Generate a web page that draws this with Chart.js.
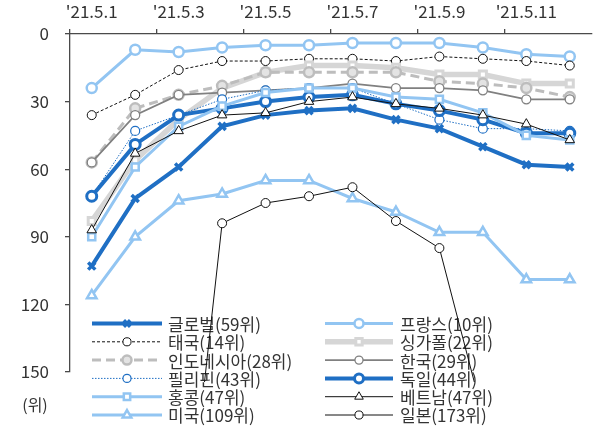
<!DOCTYPE html>
<html>
<head>
<meta charset="utf-8">
<script src="https://cdn.jsdelivr.net/npm/chart.js@4/dist/chart.umd.min.js"></script>
<style>
  html, body { margin: 0; padding: 0; background: #ffffff; }
  #wrap { width: 600px; height: 427px; position: relative; }
</style>
</head>
<body>
<div id="wrap"><canvas id="c" width="600" height="427"></canvas></div>
<script>
// Daily ranking, 1–12 May 2021 (lower rank = better, axis reversed)
const days = ["'21.5.1", "'21.5.2", "'21.5.3", "'21.5.4", "'21.5.5", "'21.5.6",
              "'21.5.7", "'21.5.8", "'21.5.9", "'21.5.10", "'21.5.11", "'21.5.12"];

const globalRank    = [103, 73, 59, 41, 36, 34, 33, 38, 42, 50, 58, 59];
const franceRank    = [24, 7, 8, 6, 5, 5, 4, 4, 4, 6, 9, 10];
const thailandRank  = [36, 27, 16, 12, 12, 11, 11, 12, 10, 11, 12, 14];
const singaporeRank = [83, 56, 38, 24, 17, 14, 14, 15, 18, 18, 22, 22];
const indonesiaRank = [57, 33, 27, 23, 17, 17, 17, 17, 21, 22, 24, 28];
const koreaRank     = [57, 36, 27, 26, 25, 24, 22, 24, 24, 25, 29, 29];
const philippinesRank = [72, 43, 36, 29, 25, 24, 24, 31, 38, 42, 42, 43];
const germanyRank   = [72, 49, 36, 33, 30, 28, 27, 31, 34, 38, 44, 44];
const hongkongRank  = [90, 59, 41, 32, 26, 24, 24, 28, 29, 35, 45, 47];
const vietnamRank   = [87, 53, 43, 36, 35, 30, 28, 31, 33, 36, 40, 47];
const usaRank       = [116, 90, 74, 71, 65, 65, 73, 79, 88, 88, 109, 109];
const japanRank     = [300, 280, 258, 84, 75, 72, 68, 83, 95, 169, 171, 173];

const seriesNames = ["글로벌(59위)", "프랑스(10위)", "태국(14위)", "싱가폴(22위)",
                     "인도네시아(28위)", "한국(29위)", "필리핀(43위)", "독일(44위)",
                     "홍콩(47위)", "베트남(47위)", "미국(109위)", "일본(173위)"];

const yTicks = [0, 30, 60, 90, 120, 150];

const BLUE = '#1f6fc4';
const LIGHT = '#92c5f2';
const TEXT = '#333333';
const AXIS = '#4a4a4a';
const FONT = "'Noto Sans CJK KR', 'Noto Sans', sans-serif";

function series(label, data, s) {
  return Object.assign({
    label, data,
    fill: false,
    tension: 0,
    pointBackgroundColor: '#ffffff',
    pointHoverRadius: 0,
  }, s);
}

const datasets = [
  series(seriesNames[0], globalRank, { borderColor: BLUE, borderWidth: 4, pointStyle: 'crossRot', pointRadius: 5, pointBorderWidth: 3.5, pointBorderColor: BLUE }),
  series(seriesNames[1], franceRank, { borderColor: LIGHT, borderWidth: 3, pointStyle: 'circle', pointRadius: 5, pointBorderWidth: 2.5, pointBorderColor: LIGHT }),
  series(seriesNames[2], thailandRank, { borderColor: '#111111', borderWidth: 1, borderDash: [3, 2], pointStyle: 'circle', pointRadius: 4.5, pointBorderWidth: 1, pointBorderColor: '#111111' }),
  series(seriesNames[3], singaporeRank, { borderColor: '#d6d6d6', borderWidth: 5.5, pointStyle: 'rect', pointRadius: 5, pointBorderWidth: 3, pointBorderColor: '#d6d6d6' }),
  series(seriesNames[4], indonesiaRank, { borderColor: '#bdbdbd', borderWidth: 3, borderDash: [9, 5], pointStyle: 'circle', pointRadius: 5, pointBorderWidth: 2.5, pointBorderColor: '#bdbdbd', pointBackgroundColor: '#e3e3e3' }),
  series(seriesNames[5], koreaRank, { borderColor: '#808080', borderWidth: 1.8, pointStyle: 'circle', pointRadius: 4.5, pointBorderWidth: 1.3, pointBorderColor: '#808080' }),
  series(seriesNames[6], philippinesRank, { borderColor: BLUE, borderWidth: 1, borderDash: [1.5, 1.5], pointStyle: 'circle', pointRadius: 4.5, pointBorderWidth: 1.2, pointBorderColor: BLUE }),
  series(seriesNames[7], germanyRank, { borderColor: BLUE, borderWidth: 4, pointStyle: 'circle', pointRadius: 5, pointBorderWidth: 3, pointBorderColor: BLUE }),
  series(seriesNames[8], hongkongRank, { borderColor: LIGHT, borderWidth: 3, pointStyle: 'rect', pointRadius: 5, pointBorderWidth: 2.5, pointBorderColor: LIGHT }),
  series(seriesNames[9], vietnamRank, { borderColor: '#111111', borderWidth: 1, pointStyle: 'triangle', pointRadius: 5.5, pointBorderWidth: 1, pointBorderColor: '#111111' }),
  series(seriesNames[10], usaRank, { borderColor: LIGHT, borderWidth: 3, pointStyle: 'triangle', pointRadius: 5.5, pointBorderWidth: 2.5, pointBorderColor: LIGHT }),
  series(seriesNames[11], japanRank, { borderColor: '#111111', borderWidth: 1, pointStyle: 'circle', pointRadius: 4.5, pointBorderWidth: 1, pointBorderColor: '#111111',
    clip: { left: 6, top: 6, right: 6, bottom: 10 } }),
];
// later series are painted over earlier ones
datasets.forEach((d, i) => { d.order = datasets.length - i; });

// two-column legend placed inside the lower part of the plot
const legendPlugin = {
  id: 'twoColLegend',
  beforeDatasetsDraw(chart) {
    const ctx = chart.ctx;
    const cols = [{ x0: 92, x1: 162, tx: 168 }, { x0: 325, x1: 393, tx: 400 }];
    const rowY0 = 323.5, rowStep = 18.3;
    ctx.save();
    chart.data.datasets.forEach((ds, i) => {
      const col = cols[i % 2];
      const y = rowY0 + Math.floor(i / 2) * rowStep;
      ctx.save();
      ctx.strokeStyle = ds.borderColor;
      ctx.lineWidth = ds.borderWidth;
      ctx.setLineDash(ds.borderDash || []);
      ctx.beginPath();
      ctx.moveTo(col.x0, y);
      ctx.lineTo(col.x1, y);
      ctx.stroke();
      ctx.setLineDash([]);
      ctx.fillStyle = ds.pointBackgroundColor;
      ctx.strokeStyle = ds.pointBorderColor;
      ctx.lineWidth = ds.pointBorderWidth;
      Chart.helpers.drawPoint(ctx, {
        pointStyle: ds.pointStyle,
        radius: ds.pointRadius * 0.9,
        rotation: 0,
        borderWidth: ds.pointBorderWidth
      }, (col.x0 + col.x1) / 2, y);
      ctx.restore();
      ctx.fillStyle = TEXT;
      ctx.font = "17px " + FONT;
      ctx.textAlign = 'left';
      ctx.textBaseline = 'middle';
      ctx.fillText(ds.label, col.tx, y + 1);
    });
    ctx.restore();
  },
  afterDraw(chart) {
    const ctx = chart.ctx;
    ctx.save();
    ctx.fillStyle = TEXT;
    ctx.font = "16px " + FONT;
    ctx.textAlign = 'center';
    ctx.textBaseline = 'middle';
    ctx.fillText('(위)', 35, 405);
    ctx.restore();
  }
};

new Chart(document.getElementById('c'), {
  type: 'line',
  data: { labels: days, datasets },
  options: {
    responsive: false,
    animation: false,
    devicePixelRatio: 1,
    layout: { padding: { left: 0, right: 4, top: 0, bottom: 55 } },
    plugins: { legend: { display: false }, tooltip: { enabled: false } },
    scales: {
      x: {
        type: 'category',
        position: 'top',
        offset: true,
        afterFit(scale) { scale.height = 34; },
        border: { display: true, color: AXIS, width: 1.3 },
        grid: {
          offset: true,
          drawOnChartArea: false,
          drawTicks: true,
          tickLength: 5,
          lineWidth: 1.3,
          color: (c) => (c.index % 2 === 0 ? AXIS : 'rgba(0,0,0,0)')
        },
        ticks: {
          autoSkip: false,
          maxRotation: 0,
          padding: 7,
          color: TEXT,
          font: { family: FONT, size: 17 },
          callback: (v, i) => (i % 2 === 0 ? days[i] : '')
        }
      },
      y: {
        reverse: true,
        min: yTicks[0],
        max: yTicks[yTicks.length - 1],
        afterFit(scale) { scale.width = 70; },
        afterBuildTicks(scale) { scale.ticks = yTicks.map(v => ({ value: v })); },
        border: { display: true, color: AXIS, width: 1.3 },
        grid: {
          drawOnChartArea: false,
          drawTicks: true,
          tickLength: 5,
          lineWidth: 1.3,
          color: AXIS
        },
        ticks: {
          padding: 16,
          color: TEXT,
          font: { family: FONT, size: 17 }
        }
      }
    }
  },
  plugins: [legendPlugin]
});
</script>
</body>
</html>
